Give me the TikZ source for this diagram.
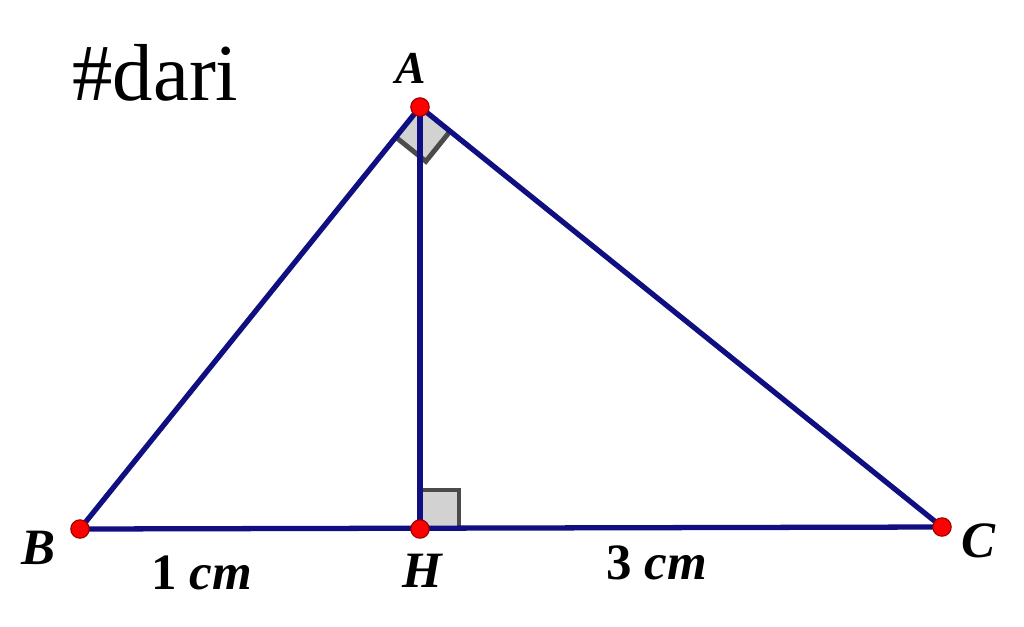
\documentclass[tikz,border=0pt]{standalone}
\usepackage{fontspec}
\setmainfont{Liberation Serif}
\usetikzlibrary{calc}
\definecolor{navy}{RGB}{15,15,130}
\definecolor{markgray}{RGB}{75,75,75}
\definecolor{markfill}{RGB}{210,210,210}
\definecolor{ptedge}{RGB}{150,0,0}
\begin{document}
\begin{tikzpicture}[x=0.02cm,y=-0.02cm,
  seg/.style={draw=navy,line width=3pt,line cap=round},
  ramark/.style={draw=markgray,line width=2.8pt},
  pt/.style={circle,fill=red,draw=ptedge,line width=0.6pt,inner sep=0pt,minimum size=10.5pt},
  lbl/.style={font=\fontsize{29}{31}\selectfont\bfseries\itshape,inner sep=0pt}]
\useasboundingbox (0,0) rectangle (1024,626);
\coordinate (A) at (420,107);
\coordinate (B) at (80,529);
\coordinate (H) at (420,529);
\coordinate (C) at (942,527);
% right angle marks
\coordinate (a1) at ($(A)!22pt!(B)$);
\coordinate (a2) at ($(A)!22pt!(C)$);
\coordinate (a3) at ($(a1)+(a2)-(A)$);
\fill[markfill] (A) -- (a1) -- (a3) -- (a2) -- cycle;
\draw[ramark,line join=miter] (a1) -- (a3) -- (a2);
\fill[markfill] (420,529) rectangle (459,490);
\draw[ramark] (420,490) -- (459,490) -- (459,529);
% sides
\draw[seg] (A) -- (B);
\draw[seg] (A) -- (C);
\draw[seg] (B) -- (C);
\draw[seg] (A) -- (H);
% points
\node[pt] (pA) at (A) {};
\node[pt] (pB) at (B) {};
\node[pt] (pH) at (H) {};
\node[pt] (pC) at (C) {};
% labels
\node[lbl,font=\fontsize{26}{28}\selectfont\bfseries\itshape] (lA) at (411,68) {A};
\node[lbl] (lB) at (38,548) {B};
\node[lbl] (lH) at (422,571) {H};
\node[lbl] (lC) at (978,541) {C};
\node[lbl,anchor=base] (l1) at (202,589) {\upshape 1 \itshape cm};
\node[lbl,anchor=base] (l3) at (657,579) {\upshape 3 \itshape cm};
\node[font=\fontsize{46}{48}\selectfont,anchor=base west,inner sep=0pt] (t) at (72,100) {\#dari};
\end{tikzpicture}
\end{document}
